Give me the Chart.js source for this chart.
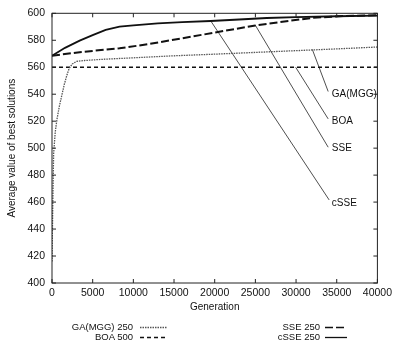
<!DOCTYPE html>
<html lang="en">
<head>
    <meta charset="UTF-8">
    <title>Average value of best solutions</title>
    <script src="https://cdn.jsdelivr.net/npm/chart.js"></script>
    <style>
        body { margin: 0; background: #fff; }
        #wrap { position: relative; width: 396px; height: 340px; }
        #legend { position: absolute; left: 0; top: 0; width: 396px; height: 340px; pointer-events: none;
                  font-family: "Liberation Sans", Arial, sans-serif; font-size: 9.5px; color: #111; }
        .item { position: absolute; height: 10px; line-height: 10px; white-space: nowrap; }
        .item span { position: absolute; right: 0; top: 0; }
    </style>
</head>
<body>
<div id="wrap">
    <canvas id="chart" width="396" height="340"></canvas>
    <div id="legend"></div>
</div>
<script>
    // tick labels
    const xTicks = [0, 5000, 10000, 15000, 20000, 25000, 30000, 35000, 40000];
    const yTicks = [400, 420, 440, 460, 480, 500, 520, 540, 560, 580, 600];

    // series (generation, average best value)
    const gaGen = [0, 100, 200, 400, 600, 900, 1200, 1500, 1800, 2100, 2500, 3000, 4000, 6000, 10000, 15000, 20000, 25000, 30000, 35000, 40000];
    const gaVal = [416, 460, 496, 512, 521, 531, 539, 547, 553.5, 559, 562.5, 564.3, 565, 565.8, 567, 568.5, 569.7, 571, 572.3, 573.6, 575];

    const boaGen = [0, 40000];
    const boaVal = [560, 560];

    const sseGen = [0, 3400, 8300, 12000, 16000, 20000, 25000, 28000, 32000, 36000, 40000];
    const sseVal = [568.5, 571.2, 574, 577.3, 581.5, 585.7, 591, 593.5, 596.6, 598, 598.5];

    const csseGen = [0, 1600, 3400, 5000, 6600, 8300, 10000, 13000, 16000, 19500, 23000, 26400, 30000, 35000, 40000];
    const csseVal = [568.5, 574.4, 579.7, 583.8, 587.7, 590.1, 591, 592.5, 593.4, 594.3, 595.4, 596.5, 597.2, 597.8, 598.3];

    // callout labels: name, point on the curve, label anchor
    const calloutNames = ['GA(MGG)', 'BOA', 'SSE', 'cSSE'];
    const calloutFrom = [[32000, 573.2], [29950, 560], [24980, 591.3], [19530, 594.2]];
    const calloutTo = [[33950, 542], [33950, 521.7], [33950, 500.7], [34070, 461.6]];
    const calloutText = [[34400, 540], [34400, 520.3], [34400, 500], [34400, 459.4]];

    // legend
    const legendNames = ['GA(MGG) 250', 'BOA 500', 'SSE 250', 'cSSE 250'];

    const pts = (g, v) => g.map((x, i) => ({x, y: v[i]}));
    const font = "'Liberation Sans', Arial, sans-serif";

    const styles = [
        {borderColor: '#555', borderWidth: 1.3, borderDash: [1.5, 1]},
        {borderColor: '#111', borderWidth: 1.3, borderDash: [4, 3]},
        {borderColor: '#111', borderWidth: 2, borderDash: [8, 3]},
        {borderColor: '#111', borderWidth: 1.8, borderDash: []}
    ];

    const datasets = [
        Object.assign({label: legendNames[0], data: pts(gaGen, gaVal)}, styles[0]),
        Object.assign({label: legendNames[1], data: pts(boaGen, boaVal)}, styles[1]),
        Object.assign({label: legendNames[2], data: pts(sseGen, sseVal)}, styles[2]),
        Object.assign({label: legendNames[3], data: pts(csseGen, csseVal)}, styles[3])
    ];
    calloutFrom.forEach((p, i) => {
        datasets.push({
            label: 'callout ' + calloutNames[i],
            data: [{x: p[0], y: p[1]}, {x: calloutTo[i][0], y: calloutTo[i][1]}],
            borderColor: '#222', borderWidth: 0.8
        });
    });

    const frame = {
        id: 'frame',
        afterDraw(chart) {
            const {ctx, chartArea: a, scales} = chart;
            ctx.save();
            ctx.strokeStyle = '#222';
            ctx.lineWidth = 1;
            ctx.strokeRect(a.left, a.top, a.right - a.left, a.bottom - a.top);
            ctx.beginPath();
            xTicks.forEach(t => {
                const px = scales.x.getPixelForValue(t);
                ctx.moveTo(px, a.bottom); ctx.lineTo(px, a.bottom - 4);
                ctx.moveTo(px, a.top); ctx.lineTo(px, a.top + 4);
            });
            yTicks.forEach(t => {
                const py = scales.y.getPixelForValue(t);
                ctx.moveTo(a.left, py); ctx.lineTo(a.left + 4, py);
                ctx.moveTo(a.right, py); ctx.lineTo(a.right - 4, py);
            });
            ctx.stroke();
            ctx.fillStyle = '#111';
            ctx.font = '10px ' + font;
            ctx.textBaseline = 'middle';
            calloutNames.forEach((n, i) => {
                ctx.fillText(n, scales.x.getPixelForValue(calloutText[i][0]),
                    scales.y.getPixelForValue(calloutText[i][1]));
            });
            ctx.restore();
        }
    };

    new Chart(document.getElementById('chart'), {
        type: 'line',
        data: {datasets},
        options: {
            responsive: false,
            animation: false,
            parsing: false,
            elements: {point: {radius: 0}, line: {tension: 0, fill: false}},
            layout: {padding: {top: 7, right: 14, bottom: 27, left: 0}},
            plugins: {legend: {display: false}, tooltip: {enabled: false}},
            scales: {
                x: {
                    type: 'linear', min: 0, max: 40000,
                    afterBuildTicks: s => { s.ticks = xTicks.map(v => ({value: v})); },
                    afterFit: s => { s.height = 30; },
                    grid: {display: false, drawTicks: false},
                    border: {display: false},
                    ticks: {color: '#111', font: {size: 10.5, family: font}, padding: 4, maxRotation: 0,
                            callback: v => String(v)},
                    title: {display: true, text: 'Generation', color: '#111', font: {size: 10, family: font},
                            padding: {top: 5, bottom: 0}}
                },
                y: {
                    type: 'linear', min: 400, max: 600,
                    afterBuildTicks: s => { s.ticks = yTicks.map(v => ({value: v})); },
                    afterFit: s => { s.width = 52; },
                    grid: {display: false, drawTicks: false},
                    border: {display: false},
                    ticks: {color: '#111', font: {size: 10.5, family: font}, padding: 7,
                            callback: v => String(v)},
                    title: {display: true, text: 'Average value of best solutions', color: '#111',
                            font: {size: 10, family: font}, padding: {top: 6, bottom: 0}}
                }
            }
        },
        plugins: [frame]
    });

    // legend below the chart
    const legendPos = [[133, 140, 27, 322], [133, 140, 27, 332], [320, 325, 22, 322], [320, 325, 22, 332]];
    const legend = document.getElementById('legend');
    legendNames.forEach((name, i) => {
        const [tr, sx, w, y] = legendPos[i];
        const item = document.createElement('div');
        item.className = 'item';
        item.style.left = '0px';
        item.style.width = tr + 'px';
        item.style.top = y + 'px';
        const span = document.createElement('span');
        span.textContent = name;
        item.appendChild(span);
        legend.appendChild(item);
        const st = styles[i];
        const svg = document.createElementNS('http://www.w3.org/2000/svg', 'svg');
        svg.setAttribute('width', w);
        svg.setAttribute('height', 10);
        svg.style.position = 'absolute';
        svg.style.left = sx + 'px';
        svg.style.top = y + 'px';
        const ln = document.createElementNS('http://www.w3.org/2000/svg', 'line');
        ln.setAttribute('x1', 0); ln.setAttribute('x2', w);
        ln.setAttribute('y1', 5.5); ln.setAttribute('y2', 5.5);
        ln.setAttribute('stroke', st.borderColor);
        ln.setAttribute('stroke-width', Math.min(st.borderWidth, 1.3));
        if (st.borderDash.length) ln.setAttribute('stroke-dasharray', st.borderDash.join(' '));
        svg.appendChild(ln);
        legend.appendChild(svg);
    });
</script>
</body>
</html>
